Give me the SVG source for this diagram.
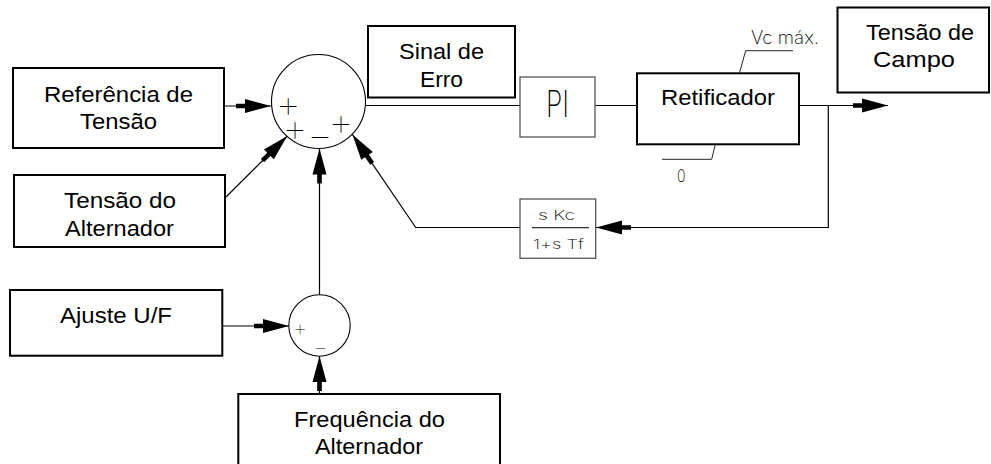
<svg xmlns="http://www.w3.org/2000/svg" width="991" height="464" viewBox="0 0 991 464">
<style>
.box{fill:#fff;stroke:#000;stroke-width:2}
.gbox{fill:#fff;stroke:#555;stroke-width:1.3}
.circ{fill:#fff;stroke:#000;stroke-width:1.1}
.ln{fill:none;stroke:#000;stroke-width:1.2}
.lead{fill:none;stroke:#222;stroke-width:1}
.t{font-family:"Liberation Sans",Arial,sans-serif;font-size:22px;fill:#000}
.c{font-family:Inter,"DejaVu Sans","Liberation Sans",sans-serif;font-weight:200;fill:#000}
.sg{font-family:Inter,"DejaVu Sans",sans-serif;font-weight:100;fill:#000;text-anchor:middle}
</style>
<defs>
<marker id="arr" markerUnits="userSpaceOnUse" markerWidth="36" markerHeight="16" refX="35" refY="0" orient="auto" overflow="visible">
<path d="M0,-2.3 H9 V-7 L35,0 L9,7 V2.3 H0 Z" fill="#000"/>
</marker>
</defs>
<rect width="991" height="464" fill="#fff"/>

<g id="connectors">
<line class="ln" x1="224" y1="106" x2="271" y2="106" marker-end="url(#arr)"/>
<line class="ln" x1="226" y1="197" x2="287.3" y2="136" marker-end="url(#arr)"/>
<line class="ln" x1="319.5" y1="295" x2="319.5" y2="148.5" marker-end="url(#arr)"/>
<polyline class="ln" points="520,227.5 415.7,227.5 352.4,134.4" marker-end="url(#arr)"/>
<line class="ln" x1="366" y1="105.5" x2="520" y2="105.5"/>
<line class="ln" x1="595" y1="105.5" x2="637" y2="105.5"/>
<line class="ln" x1="799" y1="105.5" x2="888" y2="105.5" marker-end="url(#arr)"/>
<polyline class="ln" points="828.3,105.5 828.3,227.5 596,227.5" marker-end="url(#arr)"/>
<line class="ln" x1="222" y1="326" x2="289" y2="326" marker-end="url(#arr)"/>
<line class="ln" x1="319.5" y1="394" x2="319.5" y2="356" marker-end="url(#arr)"/>
</g>

<g id="ref">
<rect class="box" x="13" y="68" width="211" height="80"/>
<text class="t" x="44" y="101.5" textLength="149" lengthAdjust="spacingAndGlyphs">Referência de</text>
<text class="t" x="80" y="128.5" textLength="77" lengthAdjust="spacingAndGlyphs">Tensão</text>
</g>

<g id="tensao-alt">
<rect class="box" x="14" y="175" width="211" height="72"/>
<text class="t" x="64" y="208" textLength="112" lengthAdjust="spacingAndGlyphs">Tensão do</text>
<text class="t" x="65" y="236" textLength="109" lengthAdjust="spacingAndGlyphs">Alternador</text>
</g>

<g id="sum1">
<circle class="circ" cx="318.5" cy="101.5" r="47"/>
<text class="sg" font-size="40"><tspan x="288.3" y="117.6">+</tspan><tspan x="295" y="142.3">+</tspan><tspan x="320" y="149.3">−</tspan><tspan x="341" y="135.6">+</tspan></text>
</g>

<g id="sinal-erro">
<rect class="box" x="368" y="26" width="147" height="71.5"/>
<text class="t" x="399" y="59.3" textLength="85" lengthAdjust="spacingAndGlyphs">Sinal de</text>
<text class="t" x="420" y="87.3" textLength="43" lengthAdjust="spacingAndGlyphs">Erro</text>
</g>

<g id="pi">
<rect class="gbox" x="520" y="77" width="75" height="60"/>
<text class="c" x="546" y="117" font-size="37" textLength="23" lengthAdjust="spacingAndGlyphs" fill="#333">PI</text>
</g>

<g id="retificador">
<rect class="box" x="637" y="73.3" width="162" height="71"/>
<text class="t" x="661" y="105" textLength="114" lengthAdjust="spacingAndGlyphs">Retificador</text>
<polyline class="lead" points="739.3,73.3 745.7,50.7 793,50.7"/>
<text class="c" x="751" y="44" font-size="18" textLength="68" lengthAdjust="spacingAndGlyphs">Vc  máx.</text>
<polyline class="lead" points="715.3,144.3 711.7,159.3 662,159.3"/>
<text class="c" x="677" y="181.7" font-size="17" textLength="8.5" lengthAdjust="spacingAndGlyphs">0</text>
</g>

<g id="campo">
<rect class="box" x="837.5" y="7.5" width="151.5" height="85"/>
<text class="t" x="866" y="39.5" textLength="108" lengthAdjust="spacingAndGlyphs">Tensão de</text>
<text class="t" x="873" y="66.7" textLength="82" lengthAdjust="spacingAndGlyphs">Campo</text>
</g>

<g id="feedback">
<rect class="gbox" x="520" y="199" width="75.7" height="59.3"/>
<line x1="532" y1="227.7" x2="589" y2="227.7" stroke="#333" stroke-width="1.2"/>
<text class="c" x="538" y="220" font-size="13.5" textLength="37" lengthAdjust="spacingAndGlyphs">s  Kc</text>
<text class="c" x="533" y="248.5" font-size="13.5" textLength="51" lengthAdjust="spacingAndGlyphs">1+s  Tf</text>
</g>

<g id="ajuste">
<rect class="box" x="10" y="290" width="212.3" height="65.7"/>
<text class="t" x="60" y="322.7" textLength="112" lengthAdjust="spacingAndGlyphs">Ajuste U/F</text>
</g>

<g id="sum2">
<circle class="circ" cx="319.5" cy="325.5" r="30.7"/>
<text class="sg" font-size="23"><tspan x="300" y="335.9">+</tspan><tspan x="320.7" y="354.9">−</tspan></text>
</g>

<g id="frequencia">
<rect class="box" x="238.3" y="394" width="261.7" height="80"/>
<text class="t" x="294" y="427" textLength="151" lengthAdjust="spacingAndGlyphs">Frequência do</text>
<text class="t" x="315" y="454" textLength="108" lengthAdjust="spacingAndGlyphs">Alternador</text>
</g>
</svg>
